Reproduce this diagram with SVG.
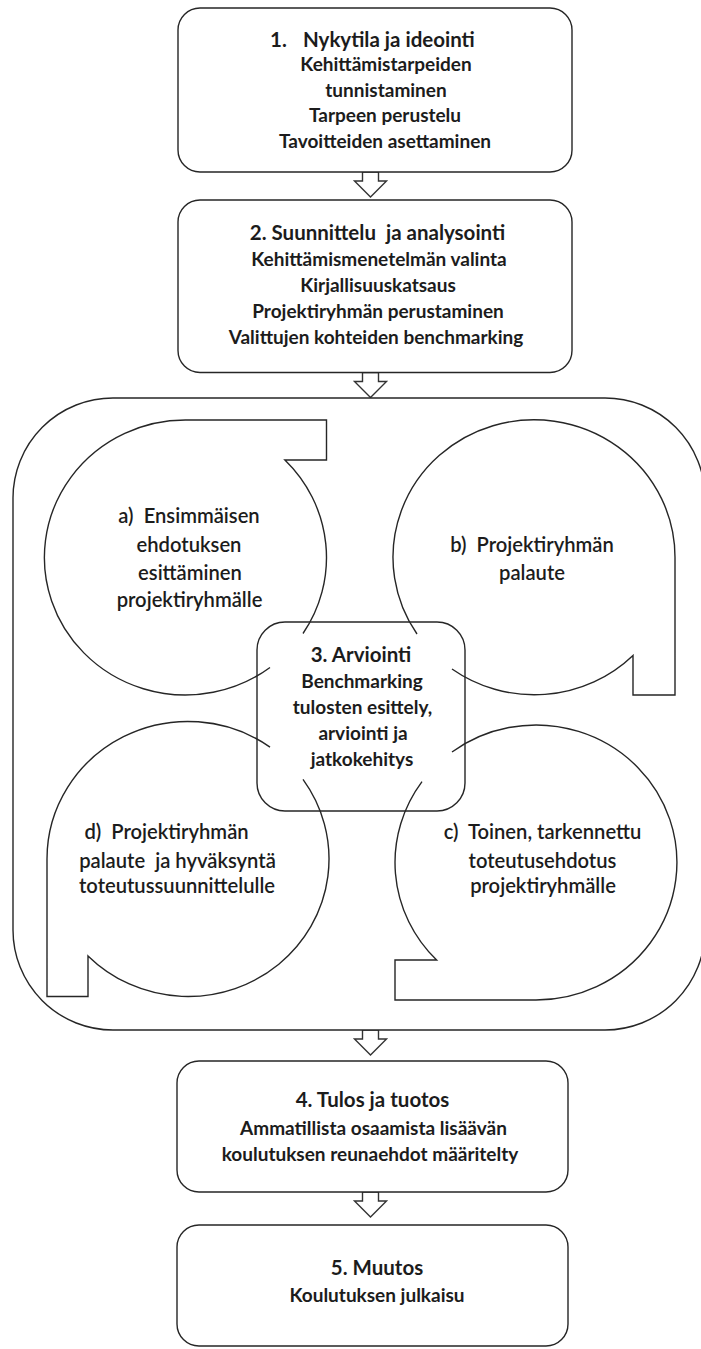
<svg xmlns="http://www.w3.org/2000/svg" xmlns:xlink="http://www.w3.org/1999/xlink" width="701" height="1349" viewBox="0 0 701 1349">
  <style>
    .box { fill: #ffffff; stroke: #262626; stroke-width: 1.4; }
    .shape { fill: none; stroke: #262626; stroke-width: 1.4; stroke-linejoin: miter; }
    .arrow { fill: #ffffff; stroke: #333333; stroke-width: 1.4; stroke-linejoin: miter; }
    text { font-family: Lato, "Open Sans", "Liberation Sans", sans-serif; fill: #1c1c1c; text-anchor: middle; white-space: pre; }
    .title { font-size: 20.5px; font-weight: bold; }
    .sub { font-size: 19px; font-weight: bold; }
    .circ { font-size: 20.2px; font-weight: 600; }
  </style>
  <defs>
    <path id="blockArrow" d="M -8,0 V 9 H -16 L 0,25 L 16,9 H 8 V 0 Z"/>
  </defs>

  <g id="connectors">
    <use xlink:href="#blockArrow" href="#blockArrow" class="arrow" transform="translate(370.5,172)"/>
    <use xlink:href="#blockArrow" href="#blockArrow" class="arrow" transform="translate(370.5,372.5)"/>
    <use xlink:href="#blockArrow" href="#blockArrow" class="arrow" transform="translate(370.5,1030)"/>
    <use xlink:href="#blockArrow" href="#blockArrow" class="arrow" transform="translate(370.5,1192)"/>
  </g>

  <g id="node1">
    <rect class="box" x="178" y="8" width="394" height="164" rx="22"/>
    <text class="title" x="270" y="47" style="text-anchor:start">1.</text>
    <text class="title" x="303" y="47" style="text-anchor:start">Nykytila ja ideointi</text>
    <text class="sub" x="386" y="71">Kehittämistarpeiden</text>
    <text class="sub" x="386" y="97">tunnistaminen</text>
    <text class="sub" x="385" y="122">Tarpeen perustelu</text>
    <text class="sub" x="385" y="148">Tavoitteiden asettaminen</text>
  </g>

  <g id="node2">
    <rect class="box" x="178" y="200" width="394" height="172.5" rx="22"/>
    <text class="title" x="377.5" y="240" xml:space="preserve">2. Suunnittelu  ja analysointi</text>
    <text class="sub" x="379" y="266">Kehittämismenetelmän valinta</text>
    <text class="sub" x="378" y="292">Kirjallisuuskatsaus</text>
    <text class="sub" x="378" y="318">Projektiryhmän perustaminen</text>
    <text class="sub" x="376" y="344">Valittujen kohteiden benchmarking</text>
  </g>

  <g id="cycle">
    <rect class="box" x="13" y="398" width="692" height="632" rx="100"/>
  </g>

  <g id="node3">
    <rect class="box" x="257" y="622" width="208" height="189" rx="28"/>
    <text class="title" x="361" y="662">3. Arviointi</text>
    <text class="sub" x="362" y="688">Benchmarking</text>
    <text class="sub" x="362.5" y="714">tulosten esittely,</text>
    <text class="sub" x="363" y="740">arviointi ja</text>
    <text class="sub" x="362" y="766">jatkokehitys</text>
  </g>

  <g id="stepA">
    <path class="shape" d="M 270,667.5 A 141 137.5 0 1 1 185.5,420 H 326.5 V 460 H 284.9 A 141 137.5 0 0 1 303,633.5"/>
    <text class="circ" x="189" y="523" xml:space="preserve">a)  Ensimmäisen</text>
    <text class="circ" x="189" y="552">ehdotuksen</text>
    <text class="circ" x="190" y="580">esittäminen</text>
    <text class="circ" x="189.5" y="607">projektiryhmälle</text>
  </g>

  <g id="stepB">
    <path class="shape" d="M 417,634 A 141 137.5 0 1 1 675,557.5 V 695 H 633 V 655.4 A 141 137.5 0 0 1 452,669"/>
    <text class="circ" x="532" y="552" xml:space="preserve">b)  Projektiryhmän</text>
    <text class="circ" x="532" y="580">palaute</text>
  </g>

  <g id="stepC">
    <path class="shape" d="M 452,752 A 141 137.5 0 1 1 536,1000 H 395 V 960 H 436.6 A 141 137.5 0 0 1 422,781.6"/>
    <text class="circ" x="542.5" y="839" xml:space="preserve">c)  Toinen, tarkennettu</text>
    <text class="circ" x="542.5" y="868">toteutusehdotus</text>
    <text class="circ" x="543" y="893">projektiryhmälle</text>
  </g>

  <g id="stepD">
    <path class="shape" d="M 303,779.4 A 141 137.5 0 0 1 88,955.9 V 996.5 H 47 V 859 A 141 137.5 0 0 1 270,747.1"/>
    <text class="circ" x="166.5" y="839" xml:space="preserve">d)  Projektiryhmän</text>
    <text class="circ" x="177.5" y="868" xml:space="preserve">palaute  ja hyväksyntä</text>
    <text class="circ" x="177" y="893">toteutussuunnittelulle</text>
  </g>

  <g id="node4">
    <rect class="box" x="177" y="1061" width="391" height="131" rx="22"/>
    <text class="title" x="372.5" y="1107">4. Tulos ja tuotos</text>
    <text class="sub" x="373.5" y="1135">Ammatillista osaamista lisäävän</text>
    <text class="sub" x="370" y="1161">koulutuksen reunaehdot määritelty</text>
  </g>

  <g id="node5">
    <rect class="box" x="177" y="1225" width="391" height="121" rx="22"/>
    <text class="title" x="377" y="1275">5. Muutos</text>
    <text class="sub" x="377" y="1302">Koulutuksen julkaisu</text>
  </g>
</svg>
